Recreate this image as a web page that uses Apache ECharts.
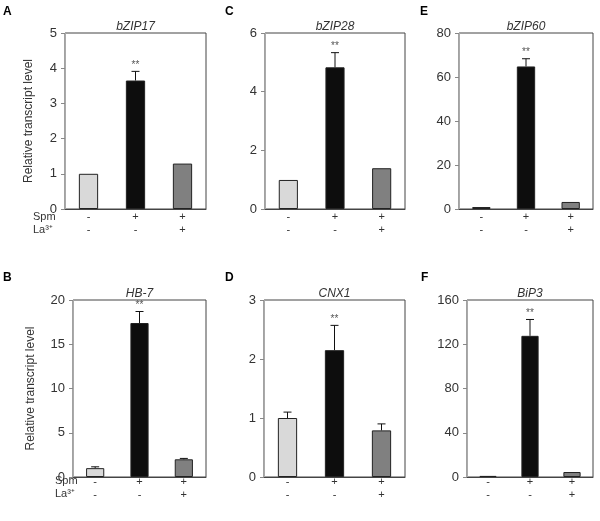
<!DOCTYPE html>
<html><head><meta charset="utf-8">
<script src="https://cdn.jsdelivr.net/npm/echarts@6/dist/echarts.min.js"></script>
<style>html,body{margin:0;padding:0;background:#fff}#c{width:600px;height:521px}</style>
</head><body><div id="c"></div>
<script>
// ---- data ----
const spmRow = ['-', '+', '+'];
const laRow = ['-', '-', '+'];
const panelLetters = ['A', 'C', 'E', 'B', 'D', 'F'];
const genes = ['bZIP17', 'bZIP28', 'bZIP60', 'HB-7', 'CNX1', 'BiP3'];
const bZIP17_mean = [1.0, 3.65, 1.29];
const bZIP17_err = [0, 0.26, 0];
const bZIP28_mean = [0.99, 4.83, 1.39];
const bZIP28_err = [0, 0.5, 0];
const bZIP60_mean = [0.9, 64.8, 3.2];
const bZIP60_err = [0, 3.5, 0];
const HB7_mean = [1.0, 17.4, 2.0];
const HB7_err = [0.15, 1.3, 0.1];
const CNX1_mean = [1.0, 2.15, 0.79];
const CNX1_err = [0.1, 0.42, 0.11];
const BiP3_mean = [1.0, 127.6, 4.5];
const BiP3_err = [0, 14.8, 0];
const sig = ['', '**', ''];
const yMax = [5, 6, 80, 20, 3, 160];
const yStep = [1, 2, 20, 5, 1, 40];
const yName = 'Relative transcript level';

const means = [bZIP17_mean, bZIP28_mean, bZIP60_mean, HB7_mean, CNX1_mean, BiP3_mean];
const errs = [bZIP17_err, bZIP28_err, bZIP60_err, HB7_err, CNX1_err, BiP3_err];
const categories = spmRow.map((s, i) => s + '\n' + laRow[i]);

// ---- layout / style ----
const FONT = 'Liberation Sans, Arial, sans-serif';
const grids = [
  {left: 65, top: 33, width: 141, height: 176},
  {left: 265, top: 33, width: 140, height: 176},
  {left: 459, top: 33, width: 134, height: 176},
  {left: 73, top: 300, width: 133, height: 177},
  {left: 264, top: 300, width: 141, height: 177},
  {left: 467, top: 300, width: 126, height: 177}
];
const barColors = ['#d9d9d9', '#0d0d0d', '#808080'];
const letterPos = [[3, 6], [225, 6], [420, 6], [3, 272], [225, 272], [421, 272]];
const nameGaps = [30, 0, 0, 36, 0, 0];
const xMargins = [1, 1, 1, -2, -2, -2];

const option = {
  animation: false,
  backgroundColor: '#fff',
  textStyle: {fontFamily: FONT},
  grid: grids.map(g => Object.assign({show: true, borderColor: '#444', borderWidth: 1, backgroundColor: 'transparent', containLabel: false}, g)),
  title: genes.map((gname, k) => ({
    text: gname,
    left: grids[k].left + grids[k].width / 2,
    top: grids[k].top - 12,
    textAlign: 'center',
    padding: 0,
    textStyle: {fontSize: 12, fontStyle: 'italic', fontWeight: 'normal', color: '#333', fontFamily: FONT}
  })),
  xAxis: grids.map((g, k) => ({
    type: 'category', gridIndex: k, data: categories,
    axisLine: {lineStyle: {color: '#444', width: 1}},
    axisTick: {show: false},
    axisLabel: {fontSize: 11, color: '#333', lineHeight: 13, margin: xMargins[k], fontFamily: FONT}
  })),
  yAxis: grids.map((g, k) => ({
    type: 'value', gridIndex: k, min: 0, max: yMax[k], interval: yStep[k],
    name: (k === 0 || k === 3) ? yName : '',
    nameLocation: 'middle', nameRotate: 90, nameGap: nameGaps[k],
    nameTextStyle: {fontSize: 12, color: '#333', fontFamily: FONT},
    axisLine: {show: true, lineStyle: {color: '#aaa', width: 1}},
    axisTick: {show: true, length: 4, lineStyle: {color: '#888'}},
    splitLine: {show: false},
    axisLabel: {fontSize: 13, color: '#333', margin: 8, fontFamily: FONT}
  })),
  graphic: [],
  series: []
};

// panel letters
panelLetters.forEach((L, k) => {
  option.graphic.push({type: 'text', left: letterPos[k][0], top: letterPos[k][1],
    style: {text: L, font: 'bold 12px ' + FONT, fill: '#000'}});
});
// row labels
[0, 3].forEach(k => {
  const g = grids[k];
  const base = g.top + g.height + (k === 0 ? 8 : 4);
  const lx = k === 0 ? 33 : 55;
  option.graphic.push({type: 'text', x: lx, y: base, style: {text: 'Spm', font: '11px ' + FONT, fill: '#333', verticalAlign: 'middle'}});
  option.graphic.push({type: 'text', x: lx, y: base + 13, style: {text: 'La³⁺', font: '11px ' + FONT, fill: '#333', verticalAlign: 'middle'}});
});

means.forEach((m, k) => {
  option.series.push({
    type: 'bar', xAxisIndex: k, yAxisIndex: k, barWidth: '41%',
    data: m.map((v, i) => ({value: v, itemStyle: {color: barColors[i], borderColor: '#222', borderWidth: 1}})),
    z: 2
  });
  option.series.push({
    type: 'custom', xAxisIndex: k, yAxisIndex: k, z: 5,
    data: m.map((v, i) => [i, v, errs[k][i]]),
    renderItem: function (params, api) {
      const i = api.value(0), v = api.value(1), e = api.value(2);
      const p0 = api.coord([i, v]);
      const p1 = api.coord([i, v + e]);
      const ch = [];
      if (e > 0) {
        ch.push({type: 'line', shape: {x1: p0[0], y1: p0[1], x2: p1[0], y2: p1[1]}, style: {stroke: '#111', lineWidth: 1}});
        ch.push({type: 'line', shape: {x1: p1[0] - 4, y1: p1[1], x2: p1[0] + 4, y2: p1[1]}, style: {stroke: '#111', lineWidth: 1}});
      }
      const s = sig[params.dataIndex];
      if (s) {
        ch.push({type: 'text', x: p1[0], y: p1[1] - 1, style: {text: s, font: '10px ' + FONT, fill: '#555', align: 'center', verticalAlign: 'bottom'}});
      }
      return {type: 'group', children: ch};
    }
  });
});

const chart = echarts.init(document.getElementById('c'), null, {renderer: 'canvas'});
chart.setOption(option);
</script>
</body></html>
